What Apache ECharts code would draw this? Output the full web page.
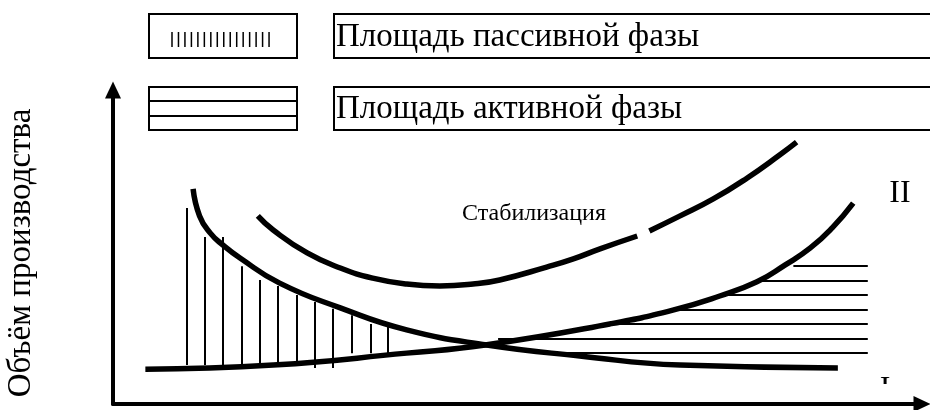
<!DOCTYPE html>
<html>
<head>
<meta charset="utf-8">
<script src="https://cdn.jsdelivr.net/npm/echarts@6/dist/echarts.min.js"></script>
<style>
    html, body {margin: 0; padding: 0; background: #fff;}
    #chart {width: 930px; height: 410px;}
</style>
</head>
<body>
<div id="chart"></div>
<script>
// кривая спада (убывающая)
var declineX = [9.9, 10.7, 12.0, 13.6, 15.7, 20.6, 28.1, 36.3, 46.2, 57.7, 70.1, 89.6];
var declineY = [68.5, 59.9, 54.5, 50.6, 46.5, 38.5, 30.6, 23.6, 18.8, 15.3, 12.4, 11.5];
// кривая роста (II)
var growthX = [4.0, 19.8, 36.3, 46.0, 61.4, 69.2, 75.0, 79.6, 83.1, 86.2, 88.9, 91.5];
var growthY = [11.1, 12.4, 16.2, 18.8, 25.5, 29.9, 34.4, 38.9, 44.3, 49.7, 56.1, 64.0];
// кривая стабилизации (небольшой разрыв - null)
var stabX = [17.9, 19.8, 24.0, 28.1, 32.1, 36.3, 40.4, 44.5, 47.8, 53.6, 56.9, 60.2, 64.8, 65.5, 66.3, 70.1, 74.2, 78.4, 82.4, 84.5];
var stabY = [59.9, 55.4, 48.1, 43.3, 40.1, 38.2, 37.6, 38.2, 39.5, 43.6, 46.2, 49.4, 53.5, null, 55.1, 59.9, 65.3, 72.0, 79.3, 83.4];

// штриховка пассивной фазы (вертикальные линии)
var passiveX = [9.1, 11.4, 13.6, 15.9, 18.2, 20.4, 22.7, 24.9, 27.2, 29.5, 31.8, 34.0];
var passiveTop = [62.4, 53.2, 53.2, 43.9, 39.5, 37.6, 34.7, 32.5, 30.3, 28.3, 25.5, 24.5];
var passiveBottom = [12.4, 12.4, 12.4, 12.4, 12.4, 12.4, 12.1, 11.5, 11.5, 16.2, 16.2, 16.2];

// штриховка активной фазы (горизонтальные линии)
var activeY = [43.9, 39.2, 34.7, 29.9, 25.5, 20.7, 16.2];
var activeLeft = [84.1, 79.6, 75.0, 69.2, 61.4, 47.6, 54.6];
var activeRight = [93.3, 93.3, 93.3, 93.3, 93.3, 93.3, 93.3];

var legendTexts = ['Площадь пассивной фазы', 'Площадь активной фазы'];
var axisName = 'Объём производства';

var serif = 'Liberation Serif, Times New Roman, serif';

function pairs(xs, ys) {
    return xs.map(function (x, i) {
        return ys[i] == null ? [x, null] : [x, ys[i]];
    });
}

var passiveLines = passiveX.map(function (x, i) {
    return {coords: [[x, passiveTop[i]], [x, passiveBottom[i]]]};
});
var activeLines = activeY.map(function (y, i) {
    return {coords: [[activeLeft[i], y], [activeRight[i], y]]};
});

//значки в легенде
var legendMarks = [];
for (var i = 0; i < 16; i++) {
    legendMarks.push({
        type: 'line',
        shape: {x1: 172 + i * 6.47, y1: 32, x2: 172 + i * 6.47, y2: 47},
        style: {stroke: '#000', lineWidth: 1.5}
    });
}

var curveStyle = {color: '#000', width: 5.5, cap: 'butt'};

var option = {
    animation: false,
    grid: {left: 113, right: 8, top: 90, bottom: 6, outerBoundsMode: 'none', containLabel: false},
    xAxis: {
        type: 'value', min: 0, max: 100,
        axisLine: {show: true, symbol: ['none', 'triangle'], symbolSize: [16, 17], lineStyle: {color: '#000', width: 4}},
        axisTick: {show: false}, axisLabel: {show: false}, splitLine: {show: false}
    },
    yAxis: {
        type: 'value', min: 0, max: 100,
        name: axisName,
        nameLocation: 'middle',
        nameRotate: 90,
        nameGap: 75,
        nameTextStyle: {fontFamily: serif, fontSize: 33, color: '#000', padding: [0, 12, 0, 0]},
        axisLine: {show: true, symbol: ['none', 'triangle'], symbolSize: [16, 17], lineStyle: {color: '#000', width: 4}},
        axisTick: {show: false}, axisLabel: {show: false}, splitLine: {show: false}
    },
    series: [
        {type: 'lines', coordinateSystem: 'cartesian2d', data: passiveLines, lineStyle: {color: '#000', width: 2, opacity: 1}},
        {type: 'lines', coordinateSystem: 'cartesian2d', data: activeLines, lineStyle: {color: '#000', width: 2, opacity: 1}},
        {type: 'line', data: pairs(declineX, declineY), showSymbol: false, smooth: 0.5, lineStyle: curveStyle},
        {type: 'line', data: pairs(growthX, growthY), showSymbol: false, smooth: 0.5, lineStyle: curveStyle},
        {type: 'line', data: pairs(stabX, stabY), showSymbol: false, smooth: 0.5, connectNulls: false, lineStyle: curveStyle}
    ],
    graphic: [
        {type: 'rect', shape: {x: 149, y: 14, width: 148, height: 44}, style: {fill: 'none', stroke: '#000', lineWidth: 2}},
        {type: 'rect', shape: {x: 334, y: 14, width: 620, height: 44}, style: {fill: 'none', stroke: '#000', lineWidth: 2}},
        {type: 'rect', shape: {x: 149, y: 87, width: 148, height: 43}, style: {fill: 'none', stroke: '#000', lineWidth: 2}},
        {type: 'line', shape: {x1: 149, y1: 101, x2: 297, y2: 101}, style: {stroke: '#000', lineWidth: 2}},
        {type: 'line', shape: {x1: 149, y1: 116, x2: 297, y2: 116}, style: {stroke: '#000', lineWidth: 2}},
        {type: 'rect', shape: {x: 334, y: 87, width: 620, height: 43}, style: {fill: 'none', stroke: '#000', lineWidth: 2}},
        {type: 'group', children: legendMarks},
        {type: 'text', x: 336, y: 37, style: {text: legendTexts[0], font: '33px ' + serif, fill: '#000', verticalAlign: 'middle'}},
        {type: 'text', x: 336, y: 109, style: {text: legendTexts[1], font: '33px ' + serif, fill: '#000', verticalAlign: 'middle'}},
        {type: 'text', x: 534, y: 214, style: {text: 'Стабилизация', font: '24px ' + serif, fill: '#000', align: 'center', verticalAlign: 'middle'}},
        {type: 'text', x: 900, y: 194, style: {text: 'II', font: '32px ' + serif, fill: '#000', align: 'center', verticalAlign: 'middle'}},
        {type: 'text', x: 885, y: 374, style: {text: 'I', font: '32px ' + serif, fill: '#000', align: 'center', verticalAlign: 'top'}},
        {type: 'rect', shape: {x: 872, y: 384, width: 26, height: 16}, style: {fill: '#fff'}}
    ]
};

var myChart = echarts.init(document.getElementById('chart'));
myChart.setOption(option);
</script>
</body>
</html>
